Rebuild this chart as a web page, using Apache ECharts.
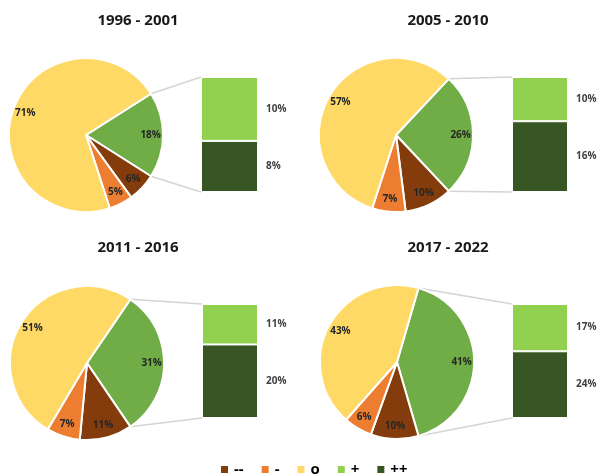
<!DOCTYPE html>
<html>
<head>
<meta charset="utf-8">
<script src="https://cdn.jsdelivr.net/npm/echarts@6/dist/echarts.min.js"></script>
<style>
  html, body { margin: 0; padding: 0; background: #fff; }
  #chart { width: 599px; height: 474px; }
</style>
</head>
<body>
<div id="chart"></div>
<script>
  // data (percent)
  const periods = ['1996 - 2001', '2005 - 2010', '2011 - 2016', '2017 - 2022'];
  const veryNeg = [6, 10, 11, 10];   // --
  const neg = [5, 7, 7, 6];          // -
  const neutral = [71, 57, 51, 43];  // o
  const pos = [10, 10, 11, 17];      // +
  const veryPos = [8, 16, 20, 24];   // ++

  const colors = {
    veryNeg: '#843C0C',
    neg: '#ED7D31',
    neutral: '#FFD966',
    posAll: '#70AD47',
    pos: '#92D050',
    veryPos: '#375623'
  };

  // panel layout
  const panels = [
    { cx: 86, cy: 135, titleX: 133, titleY: 8, bar: { left: 201, top: 77, width: 57, height: 115 } },
    { cx: 396, cy: 135, titleX: 443, titleY: 8, bar: { left: 512, top: 77, width: 56, height: 115 } },
    { cx: 87, cy: 363, titleX: 133, titleY: 235, bar: { left: 202, top: 304, width: 56, height: 114 } },
    { cx: 397, cy: 362, titleX: 443, titleY: 235, bar: { left: 512, top: 304, width: 56, height: 114 } }
  ];
  const radius = 77;
  const font = 'Open Sans';

  const myChart = echarts.init(document.getElementById('chart'));

  let titles = [];
  let grids = [];
  let xAxes = [];
  let yAxes = [];
  let series = [];
  let lines = [];

  for (let i = 0; i < periods.length; i++) {
    const p = panels[i];
    const posTotal = pos[i] + veryPos[i];
    const startAngle = posTotal * 3.6 / 2;

    titles.push({
      text: periods[i],
      left: p.titleX,
      top: p.titleY,
      textAlign: 'center',
      textStyle: { fontFamily: font, fontSize: 15, fontWeight: 'bold', color: '#1a1a1a' }
    });

    const pieData = [
      { name: '+ / ++', value: posTotal, itemStyle: { color: colors.posAll } },
      { name: '--', value: veryNeg[i], itemStyle: { color: colors.veryNeg } },
      { name: '-', value: neg[i], itemStyle: { color: colors.neg } },
      { name: 'o', value: neutral[i], itemStyle: { color: colors.neutral } }
    ];

    series.push({
      type: 'pie',
      center: [p.cx, p.cy],
      radius: [0, radius],
      startAngle: startAngle,
      clockwise: true,
      silent: true,
      animation: false,
      label: { show: false },
      labelLine: { show: false },
      itemStyle: { borderColor: '#fff', borderWidth: 2 },
      data: pieData
    });

    // transparent ring that only carries the labels, so they sit near the rim
    series.push({
      type: 'pie',
      center: [p.cx, p.cy],
      radius: [radius * 0.6, radius],
      startAngle: startAngle,
      clockwise: true,
      silent: true,
      animation: false,
      itemStyle: { color: 'rgba(0,0,0,0)', borderWidth: 0 },
      label: {
        show: true,
        position: 'inside',
        formatter: '{c}%',
        fontFamily: font,
        fontSize: 10,
        fontWeight: 'bold',
        color: '#262626'
      },
      labelLine: { show: false },
      data: pieData.map(d => ({ name: d.name + '_lbl', value: d.value }))
    });

    grids.push({ left: p.bar.left, top: p.bar.top, width: p.bar.width, height: p.bar.height });
    xAxes.push({ type: 'category', gridIndex: i, data: [periods[i]], show: false });
    yAxes.push({ type: 'value', gridIndex: i, min: 0, max: posTotal, show: false });

    const barLabel = {
      show: true,
      position: 'right',
      distance: 8,
      formatter: '{c}%',
      fontFamily: font,
      fontSize: 10,
      fontWeight: 'bold',
      color: '#404040'
    };
    series.push({
      name: '++',
      type: 'bar',
      xAxisIndex: i,
      yAxisIndex: i,
      stack: 'pos' + i,
      barWidth: '100%',
      silent: true,
      animation: false,
      itemStyle: { color: colors.veryPos, borderColor: '#fff', borderWidth: 1 },
      label: barLabel,
      data: [veryPos[i]]
    });
    series.push({
      name: '+',
      type: 'bar',
      xAxisIndex: i,
      yAxisIndex: i,
      stack: 'pos' + i,
      barWidth: '100%',
      silent: true,
      animation: false,
      itemStyle: { color: colors.pos, borderColor: '#fff', borderWidth: 1 },
      label: barLabel,
      data: [pos[i]]
    });

    // connector lines from the green slice edges to the bar corners
    const a = startAngle * Math.PI / 180;
    const px = p.cx + radius * Math.cos(a);
    const pyTop = p.cy - radius * Math.sin(a);
    const pyBot = p.cy + radius * Math.sin(a);
    const lineStyle = { stroke: '#d4d4d4', lineWidth: 1.5 };
    lines.push({ type: 'line', silent: true, shape: { x1: px, y1: pyTop, x2: p.bar.left, y2: p.bar.top }, style: lineStyle });
    lines.push({ type: 'line', silent: true, shape: { x1: px, y1: pyBot, x2: p.bar.left, y2: p.bar.top + p.bar.height }, style: lineStyle });
  }

  let option = {
    backgroundColor: '#fff',
    title: titles,
    legend: {
      data: ['--', '-', 'o', '+', '++'],
      left: 214,
      top: 457,
      itemWidth: 9,
      itemHeight: 9,
      itemGap: 16,
      icon: 'rect',
      selectedMode: false,
      textStyle: { fontFamily: font, fontSize: 15, fontWeight: 'bold', color: '#000' }
    },
    grid: grids,
    xAxis: xAxes,
    yAxis: yAxes,
    graphic: lines,
    series: series
  };

  myChart.setOption(option);
  window.addEventListener('resize', function () {
    myChart.resize();
  });
</script>
</body>
</html>
